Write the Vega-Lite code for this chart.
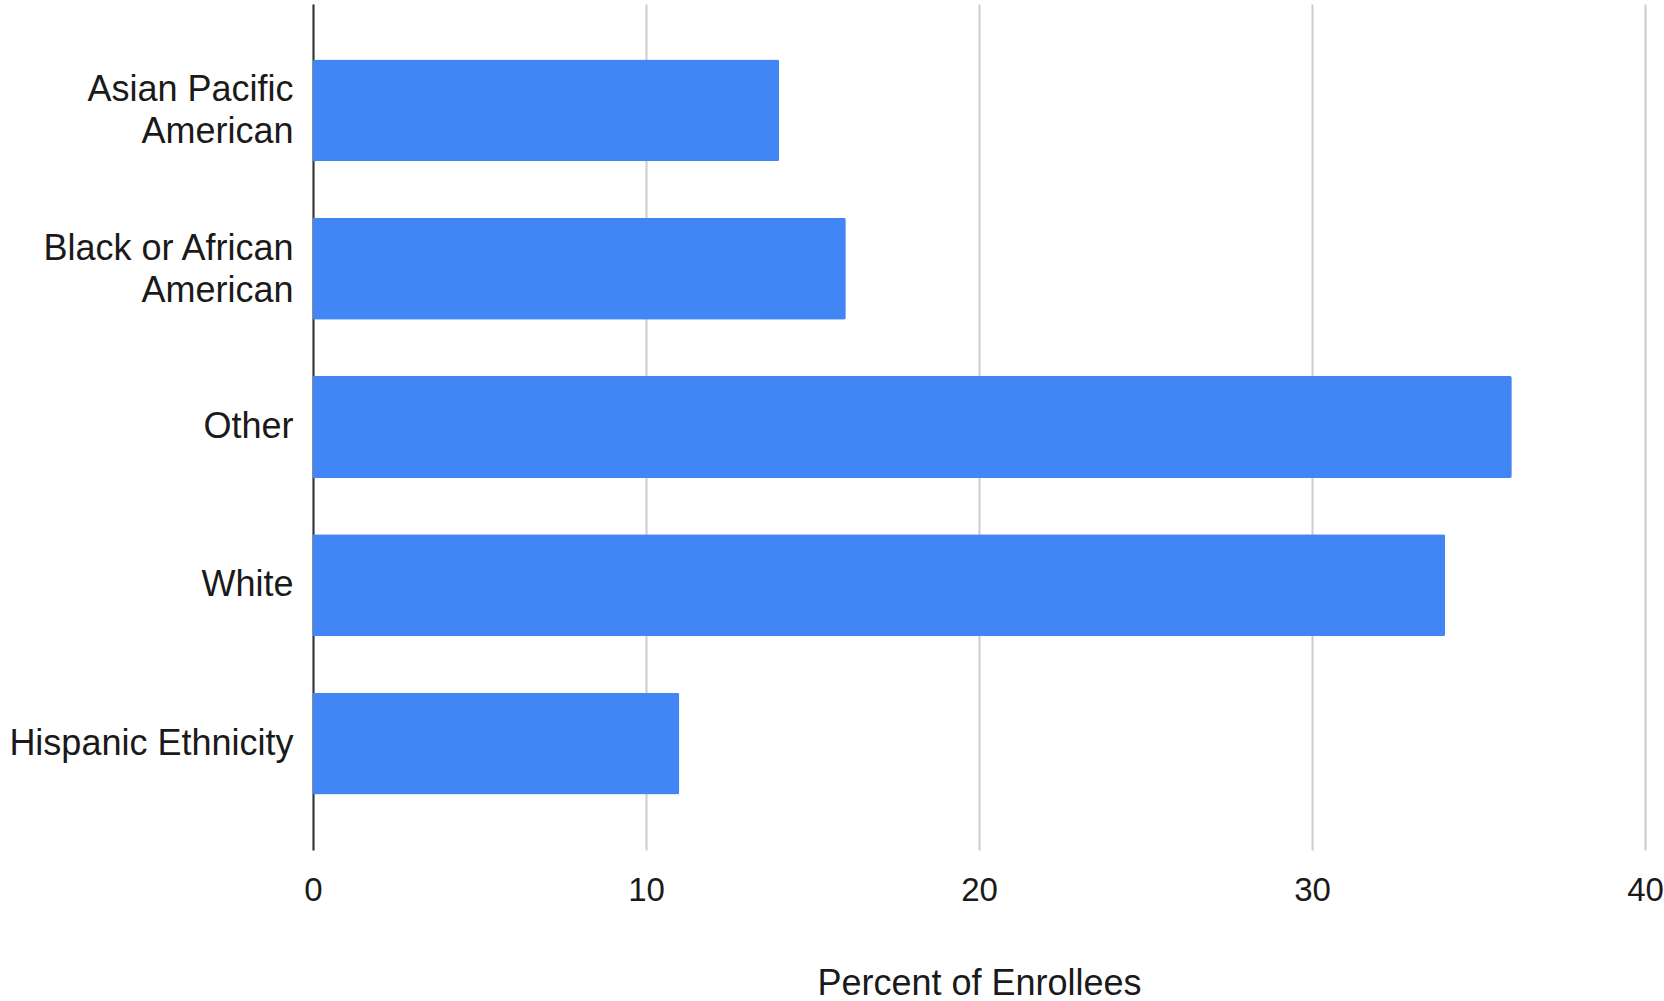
{
  "$schema": "https://vega.github.io/schema/vega-lite/v6.json",
  "width": 1332,
  "height": 846,
  "autosize": {"type": "none"},
  "padding": {"left": 313, "top": 4, "right": 19, "bottom": 151},
  "background": "white",
  "config": {
    "view": {"stroke": null},
    "font": "Liberation Sans",
    "axis": {"labelFont": "Liberation Sans", "titleFont": "Liberation Sans"}
  },
  "data": {
    "values": [
      {"group": "Asian Pacific American", "percent": 14},
      {"group": "Black or African American", "percent": 16},
      {"group": "Other", "percent": 36},
      {"group": "White", "percent": 34},
      {"group": "Hispanic Ethnicity", "percent": 11}
    ]
  },
  "mark": {"type": "bar", "color": "#4285F4", "cornerRadiusEnd": 2},
  "encoding": {
    "y": {
      "field": "group",
      "type": "nominal",
      "sort": null,
      "scale": {"paddingInner": 0.356, "paddingOuter": 0.35},
      "axis": {
        "title": null,
        "domain": true,
        "domainColor": "#333333",
        "domainWidth": 2,
        "ticks": false,
        "grid": false,
        "labelFontSize": 36,
        "labelColor": "#1a1a1a",
        "labelPadding": 20,
        "labelLimit": 400,
        "labelLineHeight": 42,
        "labelOffset": {
          "condition": {
            "test": "datum.value == 'Asian Pacific American' || datum.value == 'Black or African American'",
            "value": -20
          },
          "value": 0
        },
        "labelExpr": "datum.label == 'Asian Pacific American' ? ['Asian Pacific', 'American'] : datum.label == 'Black or African American' ? ['Black or African', 'American'] : datum.label"
      }
    },
    "x": {
      "field": "percent",
      "type": "quantitative",
      "scale": {"domain": [0, 40], "nice": false},
      "axis": {
        "title": "Percent of Enrollees",
        "titleFontSize": 36,
        "titleFontWeight": "normal",
        "titleColor": "#1a1a1a",
        "titlePadding": 59,
        "values": [0, 10, 20, 30, 40],
        "domain": false,
        "ticks": false,
        "grid": true,
        "gridColor": "#cccccc",
        "gridWidth": 2,
        "labelFontSize": 33,
        "labelColor": "#1a1a1a",
        "labelPadding": 24,
        "labelFlush": false
      }
    }
  }
}
